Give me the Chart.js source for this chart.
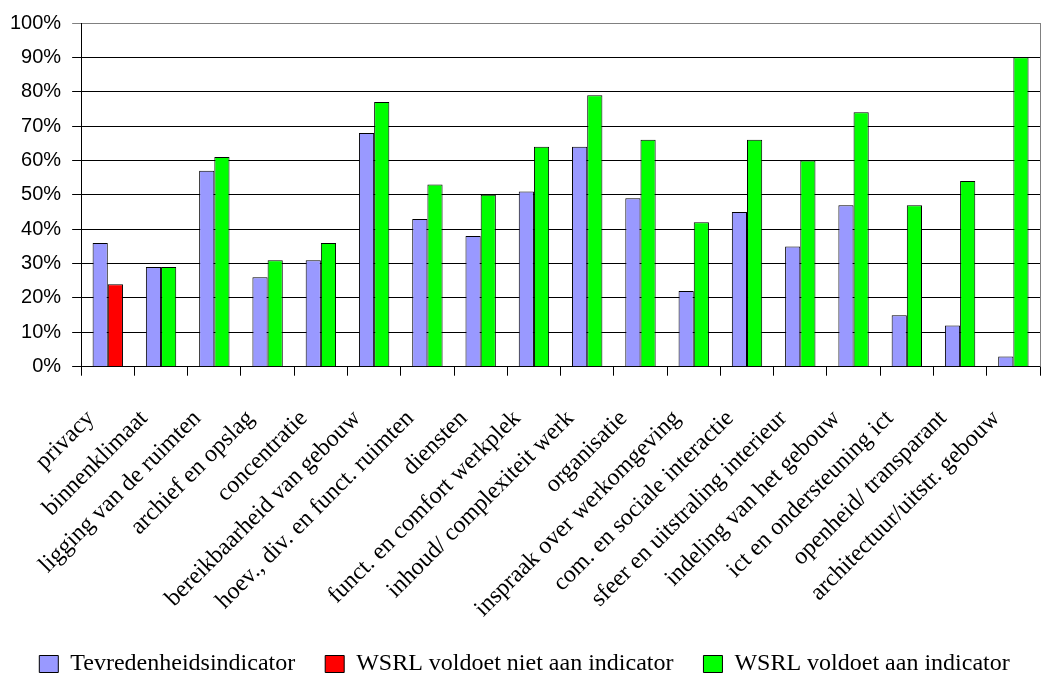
<!DOCTYPE html>
<html>
<head>
<meta charset="utf-8">
<script src="https://cdn.jsdelivr.net/npm/chart.js@4/dist/chart.umd.min.js"></script>
<style>
  html, body { margin: 0; padding: 0; background: #fff; }
  #wrap { width: 1041px; height: 679px; }
</style>
</head>
<body>
<div id="wrap"><canvas id="c"></canvas></div>
<script>
// Indicator categories along the x-axis
const categories = [
  'privacy', 'binnenklimaat', 'ligging van de ruimten', 'archief en opslag',
  'concentratie', 'bereikbaarheid van gebouw', 'hoev., div. en funct. ruimten',
  'diensten', 'funct. en comfort werkplek', 'inhoud/ complexiteit werk',
  'organisatie', 'inspraak over werkomgeving', 'com. en sociale interactie',
  'sfeer en uitstraling interieur', 'indeling van het gebouw',
  'ict en ondersteuning ict', 'openheid/ transparant', 'architectuur/uitstr. gebouw'
];

// Satisfaction indicator (%)
const tevredenheid = [36, 29, 57, 26, 31, 68, 43, 38, 51, 64, 49, 22, 45, 35, 47, 15, 12, 3];

// WSRL score where it does not meet the indicator (%)
const wsrlNiet = [24, null, null, null, null, null, null, null, null, null, null, null, null, null, null, null, null, null];

// WSRL score where it meets the indicator (%)
const wsrlWel = [null, 29, 61, 31, 36, 77, 53, 50, 64, 79, 66, 42, 66, 60, 74, 47, 54, 90];

// Y-axis tick values
const yTicks = [0, 10, 20, 30, 40, 50, 60, 70, 80, 90, 100];

const seriesNames = ['Tevredenheidsindicator', 'WSRL voldoet niet aan indicator', 'WSRL voldoet aan indicator'];

// Right-hand frame edge of the plot area
const frameRight = {
  id: 'frameRight',
  afterDatasetsDraw(chart) {
    const { ctx, chartArea } = chart;
    ctx.save();
    ctx.strokeStyle = '#808080';
    ctx.lineWidth = 1;
    ctx.beginPath();
    ctx.moveTo(Math.round(chartArea.right) + 0.5, chartArea.top);
    ctx.lineTo(Math.round(chartArea.right) + 0.5, chartArea.bottom);
    ctx.stroke();
    ctx.restore();
  }
};

new Chart(document.getElementById('c'), {
  type: 'bar',
  data: {
    labels: categories,
    datasets: [
      { label: seriesNames[0], data: tevredenheid, stack: 'a', backgroundColor: '#9999FF', borderColor: '#000', borderWidth: 1 },
      { label: seriesNames[1], data: wsrlNiet, stack: 'b', backgroundColor: '#FF0000', borderColor: '#000', borderWidth: 1 },
      { label: seriesNames[2], data: wsrlWel, stack: 'b', backgroundColor: '#00FF00', borderColor: '#000', borderWidth: 1 }
    ]
  },
  plugins: [frameRight],
  options: {
    responsive: true,
    maintainAspectRatio: false,
    animation: false,
    layout: { padding: { top: 12, right: 1, left: 9, bottom: -7 } },
    datasets: { bar: { categoryPercentage: 0.57, barPercentage: 1.0 } },
    plugins: {
      tooltip: { enabled: false },
      legend: {
        position: 'bottom',
        labels: {
          boxWidth: 19,
          boxHeight: 17,
          padding: 30,
          color: '#000',
          font: { family: '"Liberation Serif", serif', size: 24 }
        }
      }
    },
    scales: {
      x: {
        stacked: true,
        grid: { offset: true, drawOnChartArea: false, color: '#000', tickLength: 9 },
        border: { color: '#000' },
        ticks: {
          color: '#000',
          minRotation: 45,
          maxRotation: 45,
          autoSkip: false,
          padding: 29,
          labelOffset: -17,
          font: { family: '"Liberation Serif", serif', size: 24 }
        },
        // slanted labels sit under the plot; no side padding, tighter band
        afterFit(scale) {
          scale.paddingLeft = 0;
          scale.paddingRight = 0;
          scale.height -= 30;
        }
      },
      y: {
        stacked: true,
        min: 0,
        max: 100,
        afterBuildTicks(axis) { axis.ticks = yTicks.map(v => ({ value: v })); },
        grid: {
          color: ctx => (ctx.tick && ctx.tick.value === 100 ? '#808080' : '#000'),
          tickLength: 9
        },
        border: { color: '#000' },
        ticks: {
          color: '#000',
          padding: 11,
          font: { family: '"Liberation Sans", sans-serif', size: 20 },
          callback: v => v + '%'
        },
        afterFit(scale) {
          scale.width -= 10;
        }
      }
    }
  }
});
</script>
</body>
</html>
